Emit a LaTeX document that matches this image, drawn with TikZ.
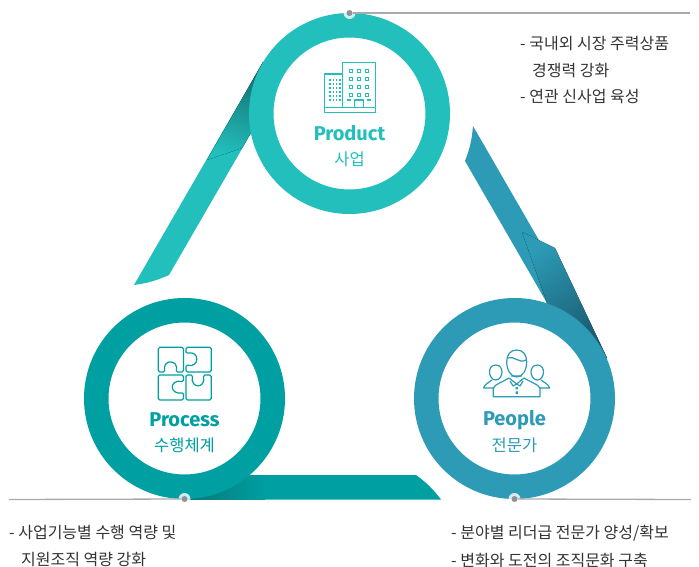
\documentclass[tikz,border=0pt]{standalone}
\usepackage{fontspec}
\setmainfont{Noto Sans CJK KR}
\newfontfamily\latinfont{Fira Sans}
\definecolor{productc}{HTML}{22BFBD}
\definecolor{processc}{HTML}{009FA2}
\definecolor{peoplec}{HTML}{2D9BB6}
\definecolor{productd}{HTML}{13676A}
\definecolor{processd}{HTML}{0A7475}
\definecolor{peopled}{HTML}{17566B}
\definecolor{leaderc}{HTML}{A9A9A9}
\definecolor{dotc}{HTML}{8E9398}
\definecolor{textc}{HTML}{333333}

\begin{document}
\begin{tikzpicture}[x=1pt,y=-1pt,
    ring/.style={circle,inner sep=0pt,minimum size=176.5pt,line width=24.5pt,fill=white},
    title node/.style={inner sep=0pt,font=\latinfont\bfseries\fontsize{20}{20}\selectfont},
    sub node/.style={inner sep=0pt,font=\fontsize{16.5}{18}\selectfont},
    note node/.style={inner sep=0pt,anchor=west,text=textc,font=\fontsize{16}{18}\selectfont},
    halo node/.style={circle,inner sep=0pt,minimum size=12pt,fill=white,fill opacity=0.8},
    dot node/.style={circle,inner sep=0pt,minimum size=6pt,fill=dotc},
    leader/.style={leaderc,line width=1.3pt},
    icon/.style={line width=1.2pt,line join=round}]
    \useasboundingbox (0,0) rectangle (699,567);

    \fill[productc] (134,285) to[bend right=8] (169,275) -- (250,135) -- (296,65) -- (263,62) -- cycle;
    \fill[bottom color=productc,top color=productd,shading angle=-15] (207,160) -- (242,148) -- (290,65) -- (263,62) -- cycle;
    \fill[peoplec] (473,126) to[bend left=8] (465,161) -- (547,303) -- (585,365) -- (607,358) -- cycle;
    \fill[top color=peoplec,bottom color=peopled,shading angle=35] (522,232) -- (555,248) -- (607,358) -- (585,365) -- (547,303) -- cycle;
    \fill[processc] (416,475) to[bend left=8] (441,499.5) -- (184,499.5) -- (184,475) -- cycle;
    \fill[left color=processd,right color=processc] (184,475) rectangle (265,499.5);

    \node[ring,draw=productc] (product) at (349.5,113.5) {};
    \node[ring,draw=processc] (process) at (184.5,398.5) {};
    \node[ring,draw=peoplec] (people) at (514.5,398.5) {};

    \node[halo node] (producth) at (349.5,13) {};
    \node[halo node] (processh) at (184.5,499) {};
    \node[halo node] (peopleh) at (514.5,499) {};
    \node[dot node] (productd) at (349.5,13) {};
    \node[dot node] (processd) at (184.5,499) {};
    \node[dot node] (peopled) at (514.5,499) {};

    \coordinate (productl) at (690,13);
    \coordinate (processl) at (9,499.5);
    \coordinate (peoplel) at (691,499.5);
    \draw[leader] (productd) -- (productl);
    \draw[leader] (processd) -- (processl);
    \draw[leader] (peopled) -- (peoplel);

    \node[title node,text=productc] (productt) at (349.5,133) {Product};
    \node[sub node,text=productc] (products) at (349.5,159) {사업};
    \node[title node,text=processc] (processt) at (184.5,420) {Process};
    \node[sub node,text=processc] (processs) at (184.5,445) {수행체계};
    \node[title node,text=peoplec] (peoplet) at (514.5,420) {People};
    \node[sub node,text=peoplec] (peoples) at (514.5,445) {전문가};

    \node[note node] (note1) at (520,44) {- 국내외 시장 주력상품};
    \node[note node] (note2) at (532,71) {경쟁력 강화};
    \node[note node] (note3) at (520,97) {- 연관 신사업 육성};
    \node[note node] (note4) at (9,533) {- 사업기능별 수행 역량 및};
    \node[note node] (note5) at (21,560) {지원조직 역량 강화};
    \node[note node] (note6) at (451,533) {- 분야별 리더급 전문가 양성/확보};
    \node[note node] (note7) at (451,560) {- 변화와 도전의 조직문화 구축};

    % building
    \draw[icon,productc] (342.7,106.7) -- (342.7,62.3) -- (375.3,62.3) -- (375.3,106.7);
    \draw[icon,productc] (342.7,74) -- (324.3,74) -- (324.3,106.7);
    \draw[icon,productc] (324.3,107.7) rectangle (375.3,112.7);
    \draw[icon,productc] (354.3,107.7) -- (354.3,100) -- (363.3,100) -- (363.3,107.7);
    \draw[icon,productc] (347,100) -- (351,100) (367,100) -- (371,100);
    \foreach \wx in {350.7,358.7,366.7}
        \foreach \wy in {70.7,78.7,86.7,94.7}
            \draw[productc,line width=1pt] (\wx-1.6,\wy-1.6) rectangle (\wx+1.6,\wy+1.6);
    \foreach \wx in {330,333.3,336.7,340}
        \foreach \wy in {80,84,88,92,96,100}
            \fill[productc] (\wx-.7,\wy-.7) rectangle (\wx+.7,\wy+.7);

    % puzzle
    \draw[icon,processc,rounded corners=1.5pt] (158.3,347.3) -- (183.5,347.3) -- (183.5,372) -- (176,372) .. controls (179,359) and (162,359) .. (165,372) -- (158.3,372) -- cycle;
    \draw[icon,processc,rounded corners=1.5pt] (186,347.3) -- (211.3,347.3) -- (211.3,372) -- (186,372) -- (186,365) .. controls (200,368) and (200,350) .. (186,353.5) -- cycle;
    \draw[icon,processc,rounded corners=1.5pt] (158.3,375) -- (183.5,375) -- (183.5,381.7) .. controls (169,379) and (169,395) .. (183.5,392.7) -- (183.5,400) -- (158.3,400) -- cycle;
    \draw[icon,processc,rounded corners=1.5pt] (186,375) -- (192.7,375) .. controls (190,389) and (206,389) .. (203.3,375) -- (211.3,375) -- (211.3,400) -- (186,400) -- cycle;

    % people
    \draw[icon,peoplec] (516.7,350) .. controls (510,350) and (506.7,355) .. (506.7,362) .. controls (506.7,370) and (511,377) .. (516.7,377) .. controls (522.4,377) and (526.7,370) .. (526.7,362) .. controls (526.7,355) and (523.4,350) .. (516.7,350) -- cycle;
    \draw[icon,peoplec] (508,358) .. controls (513,355) and (519,364) .. (526,360);
    \draw[icon,peoplec] (493.3,396.7) -- (540,396.7) -- (540,388) .. controls (538,384) and (530,382) .. (524,378) -- (516.7,384) -- (509,378) .. controls (503,382) and (495,384) .. (493.3,388) -- cycle;
    \draw[icon,peoplec] (511,376) -- (522,376) (510,381) -- (513,386) -- (516.7,384) -- (520,386) -- (523,381);
    \draw[icon,peoplec] (495.7,365) .. controls (491,365) and (489.5,369) .. (489.5,372) .. controls (489.5,376) and (492,380) .. (495.7,380) .. controls (499.4,380) and (502,376) .. (502,372) .. controls (502,369) and (500.4,365) .. (495.7,365) -- cycle;
    \draw[icon,peoplec] (537.3,365) .. controls (532.6,365) and (531,369) .. (531,372) .. controls (531,376) and (533.6,380) .. (537.3,380) .. controls (541,380) and (543.5,376) .. (543.5,372) .. controls (543.5,369) and (542,365) .. (537.3,365) -- cycle;
    \draw[icon,peoplec] (492,380) .. controls (488,383) and (485,384) .. (483.6,388) -- (494,388);
    \draw[icon,peoplec] (541,380) .. controls (545,383) and (548,384) .. (549.7,388) -- (539,388);
    \fill[peoplec] (515.6,387) rectangle (517.8,389.4) (515.6,391.4) rectangle (517.8,393.8);
\end{tikzpicture}
\end{document}
